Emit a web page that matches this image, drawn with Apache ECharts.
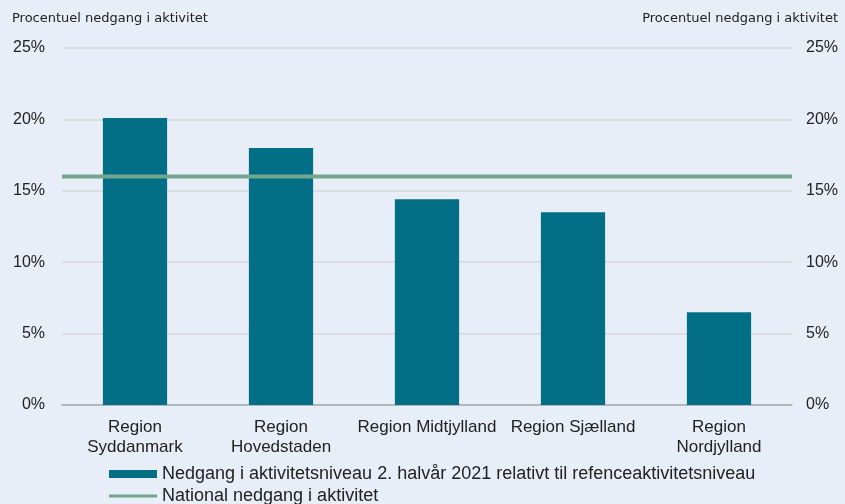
<!DOCTYPE html>
<html>
<head>
<meta charset="utf-8">
<script src="https://cdn.jsdelivr.net/npm/echarts@6/dist/echarts.min.js"></script>
<style>
  html, body { margin: 0; padding: 0; background: #E8EEF7; }
  #chart { width: 845px; height: 504px; }
</style>
</head>
<body>
<div id="chart"></div>
<script>
// data
var regions = ['Region\nSyddanmark', 'Region\nHovedstaden', 'Region Midtjylland', 'Region Sjælland', 'Region\nNordjylland'];
var decline = [20.1, 18.0, 14.4, 13.5, 6.5];
var national = 16.0;
var yTicks = [0, 5, 10, 15, 20, 25];

var barName = 'Nedgang i aktivitetsniveau 2. halvår 2021 relativt til refenceaktivitetsniveau';
var lineName = 'National nedgang i aktivitet';
var axisTitle = 'Procentuel nedgang i aktivitet';

var font = '"Liberation Sans", Arial, sans-serif';
var titleFont = '"DejaVu Sans", sans-serif';
var barColor = '#036F87';
var lineColor = '#72A78E';

var chart = echarts.init(document.getElementById('chart'));

function yAxisCfg(pos, margin) {
  return {
    type: 'value',
    position: pos,
    min: yTicks[0],
    max: yTicks[yTicks.length - 1],
    interval: 5,
    axisLine: { show: false },
    axisTick: { show: false },
    axisLabel: {
      margin: margin,
      color: '#222',
      fontFamily: font,
      fontSize: 16,
      formatter: function (v) { return v + '%'; }
    },
    splitLine: { show: pos === 'left', lineStyle: { color: '#D6D9DD', width: 1.5 } }
  };
}

var option = {
  backgroundColor: '#E8EEF7',
  textStyle: { fontFamily: font },
  grid: { left: 62, right: 53, top: 48, bottom: 99 },
  graphic: [
    { type: 'text', left: 12, top: 12, style: { text: axisTitle, fontFamily: titleFont, fontSize: 13, fill: '#222' } },
    { type: 'text', right: 7, top: 12, style: { text: axisTitle, fontFamily: titleFont, fontSize: 13, fill: '#222' } }
  ],
  legend: [
    {
      data: [{ name: barName, icon: 'rect' }],
      left: 104, top: 460,
      itemWidth: 48, itemHeight: 8, itemGap: 4,
      textStyle: { fontSize: 18, color: '#222', fontFamily: font }
    },
    {
      data: [{ name: lineName, icon: 'rect' }],
      left: 104, top: 482,
      itemWidth: 48, itemHeight: 3, itemGap: 4,
      textStyle: { fontSize: 18, color: '#222', fontFamily: font }
    }
  ],
  xAxis: [
    {
      type: 'category',
      data: regions,
      axisLine: { lineStyle: { color: '#A8AAAD', width: 1.5 } },
      axisTick: { show: false },
      axisLabel: { color: '#222', fontSize: 17, lineHeight: 20, margin: 12, fontFamily: font, interval: 0 }
    },
    { type: 'value', min: 0, max: 1, show: false }
  ],
  yAxis: [yAxisCfg('left', 17), yAxisCfg('right', 14)],
  series: [
    {
      name: barName,
      type: 'bar',
      data: decline,
      barWidth: '44%',
      itemStyle: { color: barColor },
      z: 2
    },
    {
      name: lineName,
      type: 'line',
      xAxisIndex: 1,
      data: [[0, national], [1, national]],
      symbol: 'none',
      lineStyle: { color: lineColor, width: 4 },
      itemStyle: { color: lineColor },
      z: 3
    }
  ]
};

chart.setOption(option);
</script>
</body>
</html>
